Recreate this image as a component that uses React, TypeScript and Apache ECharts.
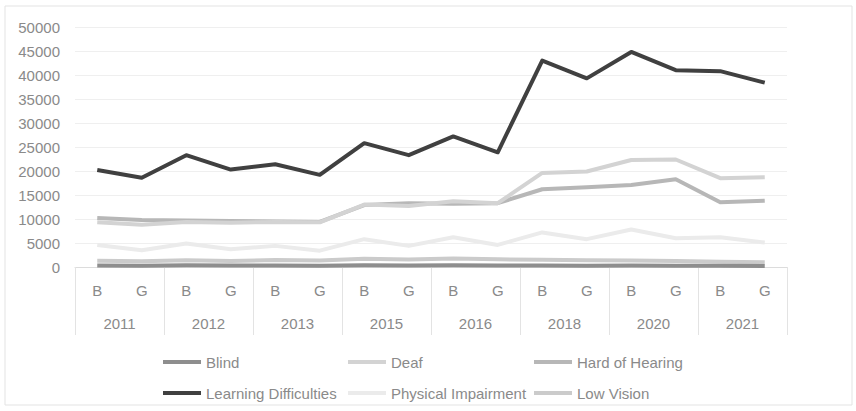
import React, { useEffect, useRef } from "react";
import * as echarts from "echarts";

const subCats = ["B", "G", "B", "G", "B", "G", "B", "G", "B", "G", "B", "G", "B", "G", "B", "G"];
const years = ["2011", "2012", "2013", "2015", "2016", "2018", "2020", "2021"];

const blind = [300, 250, 350, 300, 300, 250, 350, 300, 350, 300, 300, 250, 300, 250, 250, 200];
const deaf = [9300, 8800, 9400, 9200, 9400, 9300, 13000, 12700, 13700, 13300, 19600, 19900, 22300, 22400, 18500, 18700];
const hardOfHearing = [10200, 9800, 9700, 9600, 9500, 9400, 12900, 13300, 13200, 13300, 16200, 16600, 17100, 18300, 13500, 13800];
const learningDifficulties = [20200, 18600, 23300, 20300, 21400, 19200, 25800, 23300, 27200, 23900, 43000, 39300, 44800, 41000, 40800, 38400];
const physicalImpairment = [4600, 3500, 4900, 3700, 4400, 3400, 5800, 4400, 6200, 4600, 7200, 5800, 7800, 6000, 6200, 5100];
const lowVision = [1300, 1200, 1400, 1250, 1450, 1350, 1700, 1550, 1750, 1600, 1500, 1400, 1350, 1250, 1100, 1000];

const seriesNames = ["Blind", "Deaf", "Hard of Hearing", "Learning Difficulties", "Physical Impairment", "Low Vision"];
const seriesData = [blind, deaf, hardOfHearing, learningDifficulties, physicalImpairment, lowVision];
const seriesColors = ["#8e8e8e", "#d3d3d3", "#b7b7b7", "#404040", "#ebebeb", "#cbcbcb"];
const drawOrder = [5, 4, 2, 1, 0, 3];

const FONT = "'Liberation Sans', Arial, sans-serif";
const TEXT = "#8a8a8a";

export default function App() {
  const ref = useRef<HTMLDivElement>(null);
  useEffect(() => {
    document.body.style.margin = "0";
    if (!ref.current) return;
    const chart = echarts.init(ref.current, undefined, { renderer: "svg" });
    const legendBase = {
      orient: "vertical" as const,
      top: 349,
      itemWidth: 38,
      itemHeight: 4,
      itemGap: 15,
      icon: "rect",
      textStyle: { color: TEXT, fontSize: 15, fontFamily: FONT, lineHeight: 16 },
    };
    chart.setOption({
      animation: false,
      backgroundColor: "#ffffff",
      textStyle: { fontFamily: FONT },
      graphic: [
        {
          type: "rect",
          shape: { x: 5, y: 6, width: 847, height: 399 },
          style: { fill: "none", stroke: "#e3e3e3", lineWidth: 1 },
          silent: true,
        },
      ],
      grid: { left: 75, right: 69, top: 27, bottom: 144, containLabel: false },
      legend: [
        { ...legendBase, left: 158, data: ["Blind", "Learning Difficulties"] },
        { ...legendBase, left: 343, data: ["Deaf", "Physical Impairment"] },
        { ...legendBase, left: 529, data: ["Hard of Hearing", "Low Vision"] },
      ],
      xAxis: [
        {
          type: "category",
          data: subCats,
          boundaryGap: true,
          position: "bottom",
          axisLine: { show: true, lineStyle: { color: "#dcdcdc", width: 1 } },
          axisTick: { show: false },
          axisLabel: { color: TEXT, fontSize: 15, margin: 16, fontFamily: FONT },
        },
        {
          type: "category",
          data: years,
          boundaryGap: true,
          position: "bottom",
          axisLine: { show: false },
          axisTick: { show: true, length: 68, lineStyle: { color: "#e3e3e3", width: 1 } },
          axisLabel: { color: TEXT, fontSize: 15, margin: 49, fontFamily: FONT },
        },
      ],
      yAxis: {
        type: "value",
        min: 0,
        max: 50000,
        interval: 5000,
        axisLine: { show: false },
        axisTick: { show: false },
        axisLabel: { color: TEXT, fontSize: 15, margin: 15, fontFamily: FONT, formatter: (v: number) => String(v) },
        splitLine: { lineStyle: { color: "#efefef", width: 1 } },
      },
      series: drawOrder.map((i) => ({
        name: seriesNames[i],
        type: "line",
        xAxisIndex: 0,
        data: seriesData[i],
        symbol: "none",
        lineStyle: { color: seriesColors[i], width: 4, join: "round" },
        itemStyle: { color: seriesColors[i] },
        z: 2 + drawOrder.indexOf(i),
      })),
    });
    return () => chart.dispose();
  }, []);
  return <div ref={ref} style={{ width: 856, height: 411 }} />;
}
